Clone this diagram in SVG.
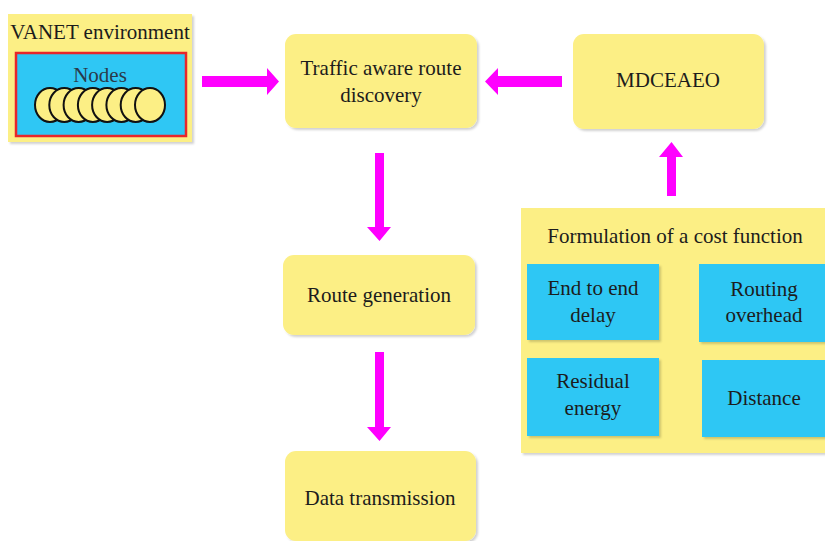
<svg xmlns="http://www.w3.org/2000/svg" width="825" height="541" viewBox="0 0 825 541">
<defs>
<filter id="sh" x="-10%" y="-10%" width="130%" height="130%">
<feDropShadow dx="2" dy="2" stdDeviation="1.2" flood-color="#000" flood-opacity="0.18"/>
</filter>
</defs>
<style>
.yb{fill:#FCEF85;filter:url(#sh)}
.bb{fill:#2FC7F4;filter:url(#sh)}
.t{font-family:'Liberation Serif','DejaVu Serif',serif;font-size:21px;fill:#1c1c1c;text-anchor:middle}
.ar{fill:#FF00FF}
.nd{fill:#FCEF85;stroke:#111;stroke-width:2}
</style>
<rect width="825" height="541" fill="#fff"/>
<g id="vanet">
<rect class="yb" x="8" y="14" width="184" height="128"/>
<text class="t" x="100" y="39" font-family="Liberation Serif">VANET environment</text>
<rect x="16" y="53" width="170" height="83" fill="#2FC7F4" stroke="#E8262A" stroke-width="2.5"/>
<text class="t" x="100" y="82" font-family="Liberation Serif" style="fill:#2a3a4a">Nodes</text>
<g>
<ellipse class="nd" cx="50" cy="105" rx="15" ry="17"/>
<ellipse class="nd" cx="64.3" cy="105" rx="15" ry="17"/>
<ellipse class="nd" cx="78.6" cy="105" rx="15" ry="17"/>
<ellipse class="nd" cx="92.9" cy="105" rx="15" ry="17"/>
<ellipse class="nd" cx="107.1" cy="105" rx="15" ry="17"/>
<ellipse class="nd" cx="121.4" cy="105" rx="15" ry="17"/>
<ellipse class="nd" cx="135.7" cy="105" rx="15" ry="17"/>
<ellipse class="nd" cx="150" cy="105" rx="15" ry="17"/>
</g>
</g>
<g id="traffic">
<rect class="yb" x="285" y="34" width="192" height="94" rx="11"/>
<text class="t" x="381" y="75" font-family="Liberation Serif">Traffic aware route</text>
<text class="t" x="381" y="102" font-family="Liberation Serif">discovery</text>
</g>
<g id="mdceaeo">
<rect class="yb" x="573" y="34" width="191" height="95" rx="11"/>
<text class="t" x="668" y="87" font-family="Liberation Serif">MDCEAEO</text>
</g>
<g id="route">
<rect class="yb" x="283" y="255" width="192" height="80" rx="11"/>
<text class="t" x="379" y="302" font-family="Liberation Serif">Route generation</text>
</g>
<g id="data">
<rect class="yb" x="285" y="451" width="191" height="90" rx="11"/>
<text class="t" x="380" y="505" font-family="Liberation Serif">Data transmission</text>
</g>
<g id="cost">
<rect class="yb" x="521" y="208" width="310" height="245"/>
<text class="t" x="675" y="243" font-family="Liberation Serif">Formulation of a cost function</text>
<g id="delay">
<rect class="bb" x="527" y="264" width="132" height="76"/>
<text class="t" x="593" y="295" font-family="Liberation Serif">End to end</text>
<text class="t" x="593" y="322" font-family="Liberation Serif">delay</text>
</g>
<g id="overhead">
<rect class="bb" x="699" y="264" width="130" height="78"/>
<text class="t" x="764" y="296" font-family="Liberation Serif">Routing</text>
<text class="t" x="764" y="322" font-family="Liberation Serif">overhead</text>
</g>
<g id="energy">
<rect class="bb" x="527" y="358" width="132" height="78"/>
<text class="t" x="593" y="388" font-family="Liberation Serif">Residual</text>
<text class="t" x="593" y="415" font-family="Liberation Serif">energy</text>
</g>
<g id="distance">
<rect class="bb" x="702" y="360" width="130" height="77"/>
<text class="t" x="764" y="405" font-family="Liberation Serif">Distance</text>
</g>
</g>
<g id="connectors">
<polygon class="ar" points="202,76 267,76 267,68 279,81.5 267,95 267,87 202,87"/>
<polygon class="ar" points="562,76 498,76 498,68 485,81.5 498,95 498,87 562,87"/>
<polygon class="ar" points="375,153 384,153 384,227 391,227 379.5,241 367,227 375,227"/>
<polygon class="ar" points="375,352 384,352 384,427 391,427 379.5,441 367,427 375,427"/>
<polygon class="ar" points="667,196 676,196 676,157 683,157 671.5,142 659,157 667,157"/>
</g>
</svg>
